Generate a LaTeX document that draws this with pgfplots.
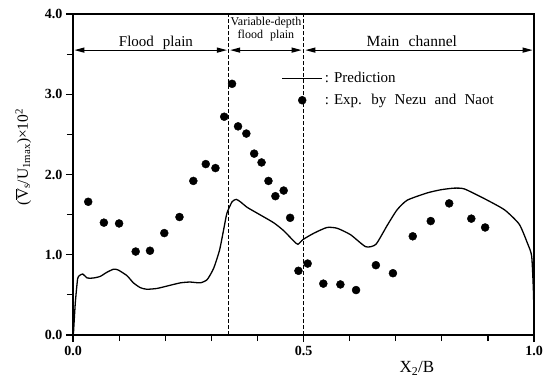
\documentclass[border=0pt]{standalone}
\usepackage{fontspec}
\setmainfont{Liberation Serif}
\usepackage{pgfplots}
\pgfplotsset{compat=1.18}
\usetikzlibrary{arrows.meta}
\pgfplotsset{
  lineleg/.style={legend image code/.code={\draw[##1] (0pt,0pt) -- (40pt,0pt);}},
  markleg/.style={legend image code/.code={\draw[mark repeat=1,mark phase=1,##1] plot coordinates {(20pt,0pt)};}},
}
\begin{document}
\begin{tikzpicture}
\begin{axis}[
  at={(0pt,0pt)}, anchor=south west,
  scale only axis, width=461pt, height=321pt,
  xmin=0, xmax=1, ymin=0, ymax=4,
  clip=false,
  xtick={0,0.5,1}, xticklabels={0.0,0.5,1.0},
  minor xtick={0.1,0.2,0.3,0.4,0.6,0.7,0.8,0.9},
  ytick={0,1,2,3,4}, yticklabels={0.0,1.0,2.0,3.0,4.0},
  minor ytick={0.5,1.5,2.5,3.5},
  xtick pos=bottom, ytick pos=left,
  tick align=outside,
  major tick length=7pt, minor tick length=6pt,
  y axis/.append style={minor tick length=5pt},
  tick style={black, line width=1.2pt},
  axis line style={line width=1.2pt},
  /pgf/number format/assume math mode=true,
  ticklabel style={font=\fontsize{14}{16}\selectfont\bfseries},
  xticklabel style={yshift=-1pt},
  xlabel={X\textsubscript{2}/B},
  xlabel style={at={(rel axis cs:0.746,0)}, anchor=north, yshift=-23pt, font=\fontsize{17}{19}\selectfont},
  ylabel={($\overline{\mbox{V}}$\textsubscript{s}/U\textsubscript{1max})×10\textsuperscript{2}},
  ylabel style={at={(ticklabel cs:0.555)}, yshift=7pt, font=\fontsize{15.5}{17}\selectfont},
  legend style={at={(axis cs:0.452,3.30)}, anchor=north west, draw=none, fill=none,
    inner sep=0pt, row sep=6pt, font=\fontsize{15}{17}\selectfont,
    nodes={inner sep=2pt}},
  legend cell align=left,
]
\addplot[black, line width=1.3pt, smooth, tension=0.35, lineleg] coordinates {
(0.001,0.02) (0.005,0.40) (0.010,0.70) (0.014,0.74) (0.021,0.76) (0.031,0.71)
(0.044,0.71) (0.059,0.73) (0.073,0.78) (0.088,0.82) (0.098,0.81) (0.117,0.74)
(0.131,0.65) (0.146,0.59) (0.160,0.57) (0.182,0.58) (0.204,0.61) (0.233,0.65)
(0.254,0.66) (0.276,0.65) (0.291,0.69) (0.305,0.83) (0.318,1.06) (0.328,1.35)
(0.334,1.52) (0.345,1.66) (0.354,1.69) (0.363,1.66) (0.378,1.59) (0.399,1.52)
(0.435,1.40) (0.457,1.30) (0.479,1.17) (0.488,1.13) (0.499,1.19) (0.523,1.27)
(0.551,1.34) (0.573,1.33) (0.602,1.25) (0.635,1.10) (0.657,1.13) (0.682,1.37)
(0.703,1.56) (0.725,1.68) (0.768,1.77) (0.798,1.81) (0.827,1.83) (0.849,1.82)
(0.892,1.70) (0.936,1.56) (0.968,1.38) (0.986,1.14) (0.995,0.98) (0.999,0.50)
(1.000,0.02)};
\addlegendentry{: Prediction}
\addplot[only marks, mark=*, mark size=4pt, black, markleg] coordinates {
(0.033,1.66) (0.067,1.40) (0.100,1.39) (0.136,1.04) (0.167,1.05) (0.198,1.27)
(0.231,1.47) (0.261,1.92) (0.288,2.13) (0.309,2.08) (0.328,2.72) (0.345,3.13)
(0.358,2.60) (0.376,2.51) (0.393,2.26) (0.409,2.15) (0.424,1.92) (0.439,1.73)
(0.457,1.80) (0.471,1.46) (0.489,0.80) (0.509,0.89) (0.543,0.64) (0.580,0.63)
(0.614,0.56) (0.657,0.87) (0.694,0.77) (0.737,1.23) (0.776,1.42) (0.816,1.64)
(0.864,1.45) (0.894,1.34)};
\addlegendentry{: Exp.\hspace{0.3em} by\hspace{0.3em} Nezu\hspace{0.3em} and\hspace{0.3em} Naot}
% region boundaries
\draw[black, line width=1.1pt, dash pattern=on 4pt off 2pt] (axis cs:0.337,0) -- (axis cs:0.337,4);
\draw[black, line width=1.1pt, dash pattern=on 4pt off 2pt] (axis cs:0.5,0) -- (axis cs:0.5,4);
% arrows
\draw[line width=1.2pt, {Triangle[length=10pt,width=5pt]}-{Triangle[length=10pt,width=5pt]}] (axis cs:0.003,3.55) -- (axis cs:0.334,3.55);
\draw[line width=1.2pt, {Triangle[length=10pt,width=5pt]}-{Triangle[length=10pt,width=5pt]}] (axis cs:0.341,3.55) -- (axis cs:0.496,3.55);
\draw[line width=1.2pt, {Triangle[length=10pt,width=5pt]}-{Triangle[length=10pt,width=5pt]}] (axis cs:0.504,3.55) -- (axis cs:0.997,3.55);
\node[font=\fontsize{15}{17}\selectfont, anchor=base] at (axis cs:0.18,3.60) {Flood\hspace{0.35em} plain};
\node[font=\fontsize{15.5}{17}\selectfont, anchor=base] at (axis cs:0.735,3.60) {Main\hspace{0.35em} channel};
\node[font=\fontsize{12}{14}\selectfont, anchor=base] at (axis cs:0.4185,3.86) {Variable-depth};
\node[font=\fontsize{12}{14}\selectfont, anchor=base] at (axis cs:0.4185,3.70) {flood\hspace{0.35em} plain};
\end{axis}
\pgfresetboundingbox
\path[use as bounding box] (-73pt,-42pt) rectangle (472pt,335pt);
\end{tikzpicture}
\end{document}
